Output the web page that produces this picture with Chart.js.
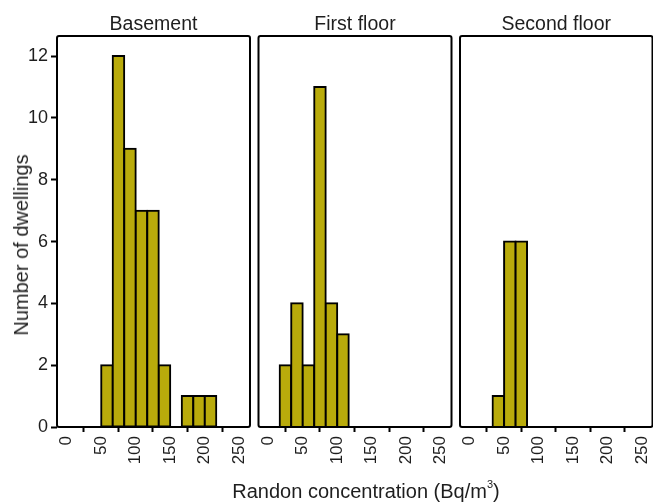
<!DOCTYPE html>
<html><head><meta charset="utf-8">
<script src="https://cdn.jsdelivr.net/npm/chart.js@4.4.1/dist/chart.umd.min.js"></script>
<style>
html,body{margin:0;padding:0;background:#fff;}
#wrap{position:relative;width:653px;height:502px;overflow:hidden;font-family:"Liberation Sans",Arial,sans-serif;color:#1e1e1e;}
canvas{position:absolute;top:0;}
#ytitle{position:absolute;left:20.5px;top:245px;transform:translate(-50%,-50%) rotate(-90deg);font-size:20px;line-height:20px;white-space:nowrap;}
#xtitle{position:absolute;left:366px;top:481px;transform:translateX(-50%);font-size:20px;line-height:20px;white-space:nowrap;}
#xtitle sup{font-size:11px;vertical-align:10px;line-height:0;}
</style></head>
<body><div id="wrap">
<canvas id="c1" width="254" height="502" style="left:0px"></canvas>
<canvas id="c2" width="200" height="502" style="left:254px"></canvas>
<canvas id="c3" width="198" height="502" style="left:455px"></canvas>
<div id="ytitle">Number of dwellings</div>
<div id="xtitle">Randon concentration (Bq/m<sup>3</sup>)</div>
</div>
<script>
// ---- data ----
const binWidth = 50 / 3;
const binStarts = [0, 16.67, 33.33, 50, 66.67, 83.33, 100, 116.67, 133.33, 150, 166.67, 183.33, 200, 216.67, 233.33];
const basementCounts    = [0, 0, 0, 2, 12, 9, 7, 7, 2, 0, 1, 1, 1, 0, 0];
const firstFloorCounts  = [0, 2, 4, 2, 11, 4, 3, 0, 0, 0, 0, 0, 0, 0, 0];
const secondFloorCounts = [0, 0, 1, 6, 6, 0, 0, 0, 0, 0, 0, 0, 0, 0, 0];
const panelTitles = ['Basement', 'First floor', 'Second floor'];
const xTicks = [0, 50, 100, 150, 200, 250];
const yTicks = [0, 2, 4, 6, 8, 10, 12];

const FONT = '"Liberation Sans", Arial, sans-serif';
const TXT = '#1e1e1e';

const panelBorder = {
  id: 'panelBorder',
  afterDatasetsDraw(chart) {
    const a = chart.chartArea, ctx = chart.ctx;
    ctx.save();
    ctx.strokeStyle = '#000';
    ctx.lineWidth = 2;
    ctx.beginPath();
    if (ctx.roundRect) ctx.roundRect(a.left, a.top, a.right - a.left, a.bottom - a.top, 2);
    else ctx.rect(a.left, a.top, a.right - a.left, a.bottom - a.top);
    ctx.stroke();
    ctx.restore();
  }
};

function makeChart(id, title, counts, showY, padL, padR) {
  new Chart(document.getElementById(id), {
    type: 'bar',
    data: {
      datasets: [{
        data: binStarts.map((s, i) => ({ x: s + binWidth / 2, y: counts[i] || null })),
        backgroundColor: '#b9ab0b',
        borderColor: '#000',
        borderWidth: 2,
        inflateAmount: 1,
        borderSkipped: false,
        barPercentage: 1,
        categoryPercentage: 1
      }]
    },
    options: {
      responsive: false,
      animation: false,
      devicePixelRatio: 1,
      layout: { padding: { left: padL, right: padR, top: 0, bottom: 0 } },
      plugins: {
        legend: { display: false },
        tooltip: { enabled: false },
        title: {
          display: true, text: title, fullSize: false, color: TXT,
          font: { family: FONT, size: 19.5, weight: 'normal' },
          padding: { top: 12.6, bottom: 0 }
        }
      },
      scales: {
        x: {
          type: 'linear', min: -14, max: 265.5, offset: false,
          afterBuildTicks: s => { s.ticks = xTicks.map(v => ({ value: v })); },
          afterFit: s => { s.height = 75; s.paddingLeft = 0; s.paddingRight = 0; },
          grid: { display: true, drawOnChartArea: false, drawTicks: true, tickLength: 5, tickWidth: 2, tickColor: '#000' },
          border: { display: false },
          ticks: { minRotation: 90, maxRotation: 90, autoSkip: false, padding: 4, color: TXT, font: { family: FONT, size: 17 } }
        },
        y: {
          display: showY, min: 0, max: 12.65,
          afterBuildTicks: s => { s.ticks = yTicks.map(v => ({ value: v })); },
          afterFit: s => { if (showY) s.width = 57 - padL; s.paddingTop = 0; s.paddingBottom = 0; },
          grid: { display: true, drawOnChartArea: false, drawTicks: true, tickLength: 6, tickWidth: 2, tickColor: '#000' },
          border: { display: false },
          ticks: { padding: 3, color: TXT, font: { family: FONT, size: 18 } }
        }
      }
    },
    plugins: [panelBorder]
  });
}

makeChart('c1', panelTitles[0], basementCounts, true, 0, 4);
makeChart('c2', panelTitles[1], firstFloorCounts, false, 4.5, 2.5);
makeChart('c3', panelTitles[2], secondFloorCounts, false, 5, 0.5);
</script>
</body></html>
